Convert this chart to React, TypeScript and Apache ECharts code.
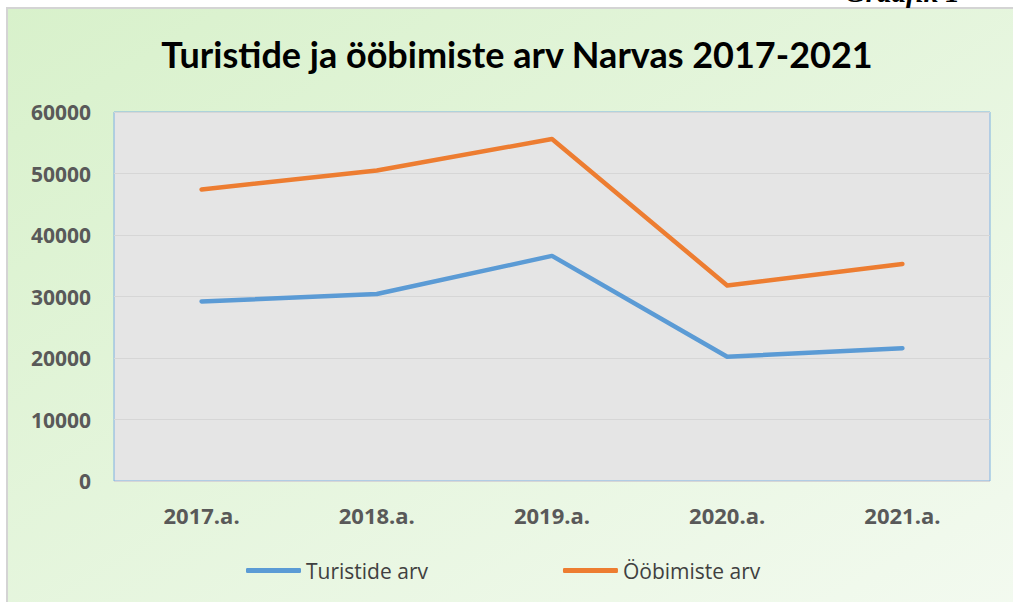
import React, { useEffect, useRef } from "react";
import * as echarts from "echarts";

const titleText = "Turistide ja ööbimiste arv Narvas 2017-2021";
const categories = ["2017.a.", "2018.a.", "2019.a.", "2020.a.", "2021.a."];
const seriesNames = ["Turistide arv", "Ööbimiste arv"];
const turistid = [29200, 30400, 36600, 20200, 21600];
const oobimised = [47400, 50500, 55600, 31800, 35300];
const yMin = 0;
const yMax = 60000;
const yInterval = 10000;

export default function App() {
  const ref = useRef<HTMLDivElement>(null);
  useEffect(() => {
    if (!ref.current) return;
    const chart = echarts.init(ref.current, null, { renderer: "svg" });
    chart.setOption({
      animation: false,
      backgroundColor: "#ffffff",
      graphic: [
        {
          type: "rect",
          z: -10,
          silent: true,
          shape: { x: 7, y: 8, width: 1020, height: 610 },
          style: {
            fill: {
              type: "linear",
              x: 0,
              y: 0,
              x2: 1,
              y2: 1,
              colorStops: [
                { offset: 0, color: "#d8f1cb" },
                { offset: 1, color: "#f3faf0" },
              ],
            },
            stroke: "#d4d4d4",
            lineWidth: 2,
          },
        },
        {
          type: "text",
          z: 10,
          silent: true,
          x: 960,
          y: 6,
          style: {
            text: "Graafik 1",
            fill: "#000000",
            font: "italic bold 29px 'Liberation Serif'",
            textAlign: "right",
            textVerticalAlign: "bottom",
          },
        },
      ],
      title: {
        text: titleText,
        left: 512,
        top: 31,
        textAlign: "center",
        textStyle: {
          fontFamily: "Lato",
          fontWeight: "bold",
          fontSize: 36,
          color: "#000000",
        },
      },
      legend: {
        left: 241,
        top: 555,
        itemWidth: 55,
        itemHeight: 5,
        itemGap: 135,
        icon: "roundRect",
        data: seriesNames,
        textStyle: {
          fontFamily: "Open Sans",
          fontSize: 21,
          color: "#404040",
          padding: [0, 0, 0, 0],
        },
      },
      grid: {
        left: 114,
        top: 112,
        right: 23,
        bottom: 121,
        show: true,
        backgroundColor: "#e5e5e5",
        borderColor: "#7fb2e2",
        borderWidth: 1,
      },
      xAxis: {
        type: "category",
        data: categories,
        boundaryGap: true,
        axisLine: { show: false },
        axisTick: { show: false },
        axisLabel: {
          margin: 23,
          fontFamily: "Open Sans",
          fontWeight: "bold",
          fontSize: 22,
          color: "#595959",
        },
      },
      yAxis: {
        type: "value",
        min: yMin,
        max: yMax,
        interval: yInterval,
        axisLine: { show: false },
        axisTick: { show: false },
        splitLine: { lineStyle: { color: "#d6d6d6", width: 1 } },
        axisLabel: {
          margin: 23,
          fontFamily: "Open Sans",
          fontWeight: "bold",
          fontSize: 21,
          color: "#595959",
          formatter: (v: number) => String(v),
        },
      },
      series: [
        {
          name: seriesNames[0],
          type: "line",
          data: turistid,
          symbol: "none",
          showSymbol: false,
          itemStyle: { color: "#5b9bd5" },
          lineStyle: { color: "#5b9bd5", width: 4.5, cap: "round", join: "round" },
        },
        {
          name: seriesNames[1],
          type: "line",
          data: oobimised,
          symbol: "none",
          showSymbol: false,
          itemStyle: { color: "#ed7d31" },
          lineStyle: { color: "#ed7d31", width: 4.5, cap: "round", join: "round" },
        },
      ],
    });
    return () => chart.dispose();
  }, []);
  return (
    <div
      ref={ref}
      style={{ position: "fixed", left: 0, top: 0, width: 1013, height: 602 }}
    />
  );
}
